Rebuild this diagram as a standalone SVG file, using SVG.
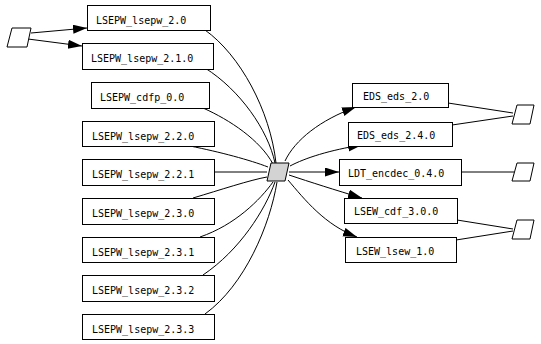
<svg xmlns="http://www.w3.org/2000/svg" width="541" height="344" viewBox="0 0 541 344">
<style>
.box{fill:#fff;stroke:#000;stroke-width:1}
.pg{fill:#fff;stroke:#000;stroke-width:1}
.hub{fill:#d3d3d3;stroke:#000;stroke-width:1}
.lbl{font-family:"DejaVu Sans Mono","Liberation Mono",monospace;font-size:10px;fill:#000}
.e{fill:none;stroke:#000;stroke-width:1}
.ea{fill:none;stroke:#000;stroke-width:1;marker-end:url(#ah)}
</style>
<defs>
<marker id="ah" markerUnits="userSpaceOnUse" markerWidth="15" markerHeight="10" refX="14" refY="4.5" orient="auto">
<path d="M0,0 L14,4.5 L0,9 z" fill="#000"/>
</marker>
</defs>
<rect width="541" height="344" fill="#fff"/>
<g id="connectors">
<path class="ea" d="M31,33 L87,28"/>
<path class="ea" d="M28,39 L82,46"/>
<path class="e" d="M205,30 C240,55 270,110 276,163"/>
<path class="e" d="M205,68 C240,90 268,130 275,163"/>
<path class="e" d="M203,108 C230,120 260,140 273,164"/>
<path class="e" d="M190,146 C220,152 250,160 268,167"/>
<path class="e" d="M214,172 L267,172"/>
<path class="e" d="M193,198 C220,190 250,180 267,177"/>
<path class="e" d="M200,237 C235,225 260,200 273,182"/>
<path class="e" d="M203,275 C240,250 265,210 275,182"/>
<path class="e" d="M205,314 C245,285 270,225 277,182"/>
<path class="ea" d="M285,161 C295,140 320,120 356,107"/>
<path class="ea" d="M290,166 C305,158 330,150 362,145"/>
<path class="ea" d="M289,172 L339,172"/>
<path class="ea" d="M289,175 C310,182 335,190 362,198"/>
<path class="ea" d="M288,180 C305,200 325,225 357,237"/>
<path class="e" d="M448,103 L513,113"/>
<path class="e" d="M452,125 L513,116"/>
<path class="e" d="M461,172 L514,172"/>
<path class="e" d="M457,220 L513,229"/>
<path class="e" d="M456,240 L513,231"/>
</g>
<g id="src"><polygon class="pg" points="12,28 31,28 27,47 7,47"/></g>
<g id="hub"><polygon class="hub" points="271,163 289,163 285,181 267,181"/></g>
<g id="sink1"><polygon class="pg" points="517,105 534,105 530,124 512,124"/></g>
<g id="sink2"><polygon class="pg" points="517,163 534,163 530,181 512,181"/></g>
<g id="sink3"><polygon class="pg" points="517,220 534,220 530,239 512,239"/></g>
<g id="n_lsepw_2_0"><rect class="box" x="87.5" y="5.5" width="123" height="25"/><text class="lbl" x="96" y="24">LSEPW_lsepw_2.0</text></g>
<g id="n_lsepw_2_1_0"><rect class="box" x="82.5" y="43.5" width="131" height="26"/><text class="lbl" x="91" y="62">LSEPW_lsepw_2.1.0</text></g>
<g id="n_cdfp_0_0"><rect class="box" x="91.5" y="82.5" width="118" height="26"/><text class="lbl" x="100" y="101">LSEPW_cdfp_0.0</text></g>
<g id="n_lsepw_2_2_0"><rect class="box" x="82.5" y="121.5" width="132" height="25"/><text class="lbl" x="92" y="140">LSEPW_lsepw_2.2.0</text></g>
<g id="n_lsepw_2_2_1"><rect class="box" x="82.5" y="159.5" width="132" height="26"/><text class="lbl" x="92" y="178">LSEPW_lsepw_2.2.1</text></g>
<g id="n_lsepw_2_3_0"><rect class="box" x="82.5" y="198.5" width="132" height="26"/><text class="lbl" x="92" y="217">LSEPW_lsepw_2.3.0</text></g>
<g id="n_lsepw_2_3_1"><rect class="box" x="82.5" y="237.5" width="132" height="25"/><text class="lbl" x="92" y="256">LSEPW_lsepw_2.3.1</text></g>
<g id="n_lsepw_2_3_2"><rect class="box" x="82.5" y="275.5" width="132" height="26"/><text class="lbl" x="92" y="294">LSEPW_lsepw_2.3.2</text></g>
<g id="n_lsepw_2_3_3"><rect class="box" x="82.5" y="314.5" width="132" height="25"/><text class="lbl" x="92" y="333">LSEPW_lsepw_2.3.3</text></g>
<g id="n_eds_2_0"><rect class="box" x="352.5" y="83.5" width="96" height="24"/><text class="lbl" x="363" y="100">EDS_eds_2.0</text></g>
<g id="n_eds_2_4_0"><rect class="box" x="348.5" y="122.5" width="104" height="24"/><text class="lbl" x="357" y="139">EDS_eds_2.4.0</text></g>
<g id="n_ldt"><rect class="box" x="339.5" y="159.5" width="122" height="26"/><text class="lbl" x="348" y="177">LDT_encdec_0.4.0</text></g>
<g id="n_lsew_cdf"><rect class="box" x="344.5" y="198.5" width="113" height="25"/><text class="lbl" x="354" y="215">LSEW_cdf_3.0.0</text></g>
<g id="n_lsew_lsew"><rect class="box" x="345.5" y="237.5" width="111" height="25"/><text class="lbl" x="356" y="255">LSEW_lsew_1.0</text></g>
</svg>
